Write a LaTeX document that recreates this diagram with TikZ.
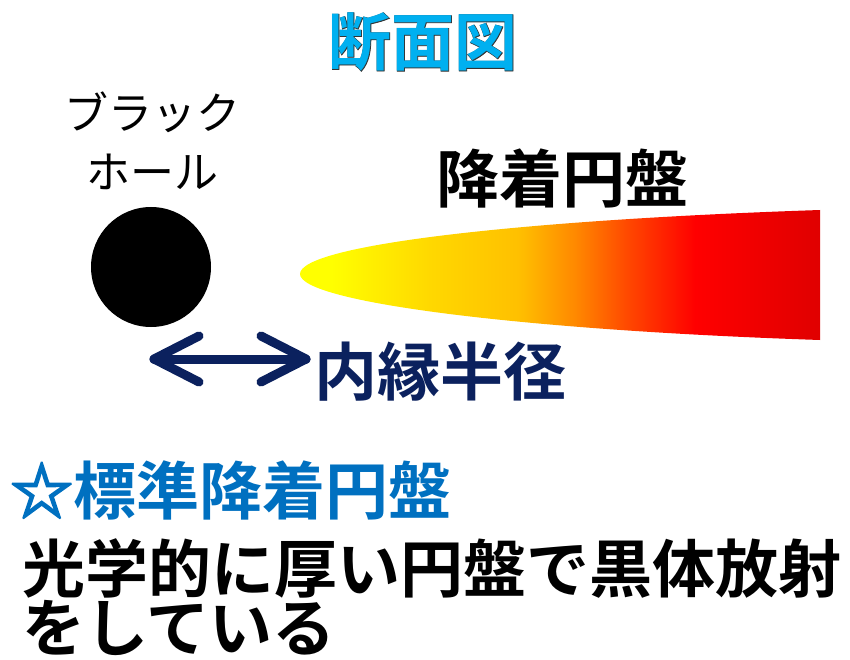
\documentclass[tikz,border=0pt]{standalone}
\usepackage{fontspec}
\newfontfamily\jp{Noto Sans CJK JP}[BoldFont={Noto Sans CJK JP Bold}]
\newfontfamily\jpedge{Noto Sans CJK JP Bold}[FakeBold=1.2]
\newfontfamily\jpstar{Noto Sans CJK JP Bold}[FakeBold=2.5]
\definecolor{titlecyan}{HTML}{00B0F0}
\definecolor{navy}{HTML}{0B215E}
\definecolor{stdblue}{HTML}{0070C0}
% disk colours from the hot inner edge to the outer rim
\pgfdeclarehorizontalshading{diskgrad}{100bp}{
  color(0bp)=(yellow);
  color(25bp)=(yellow);
  color(28bp)=(yellow);
  color(37.5bp)=(rgb,255:red,255;green,216;blue,0);
  color(46bp)=(rgb,255:red,255;green,192;blue,0);
  color(51.5bp)=(rgb,255:red,255;green,136;blue,0);
  color(56.5bp)=(rgb,255:red,255;green,72;blue,0);
  color(63bp)=(rgb,255:red,255;green,0;blue,0);
  color(75bp)=(rgb,255:red,224;green,0;blue,0);
  color(100bp)=(rgb,255:red,224;green,0;blue,0)}
\tikzset{
  big/.style={font=\jp\bfseries\fontsize{63}{63}\selectfont, inner sep=0pt},
  small/.style={font=\jp\fontsize{44}{44}\selectfont, inner sep=0pt},
  arrowline/.style={draw=navy, line width=9pt, line cap=round, line join=round}
}
\begin{document}
\begin{tikzpicture}[x=1pt,y=-1pt]
\useasboundingbox (0,0) rectangle (850,660);

% title with a thin dark rim
\node[font=\jpedge\fontsize{63}{63}\selectfont, inner sep=0pt, text=black!80] (titleedge) at (423,42) {断面図};
\node[big, text=titlecyan] (title) at (423,42) {断面図};

% black hole
\node[small] (bhlabel1) at (152,112) {ブラック};
\node[small] (bhlabel2) at (152,172) {ホール};
\node[circle, fill=black, minimum size=120pt, inner sep=0pt] (bh) at (151,267) {};

% accretion disk seen edge-on
\shade[shading=diskgrad] (820,210) .. controls (520,220) and (300,245) .. (300,274)
  .. controls (300,302) and (520,330) .. (820,340) -- cycle;
\coordinate (diskedge) at (306,359);
\node[big] (disklabel) at (562,178) {降着円盤};

% inner radius arrow
\coordinate (arrL) at (154,359);
\draw[arrowline] (arrL) -- (diskedge);
\draw[arrowline] (199,336) -- (arrL) -- (199,382);
\draw[arrowline] (261,336) -- (diskedge) -- (261,382);
\node[big, text=navy, anchor=west] (rin) at (314,372) {内縁半径};

% description
\node[big, text=stdblue, anchor=west] (std) at (10,490) {{\jpstar ☆}標準降着円盤};
\node[big, anchor=west] (line1) at (22,568) {光学的に厚い円盤で黒体放射};
\node[big, anchor=west] (line2) at (22,628) {をしている};
\end{tikzpicture}
\end{document}
